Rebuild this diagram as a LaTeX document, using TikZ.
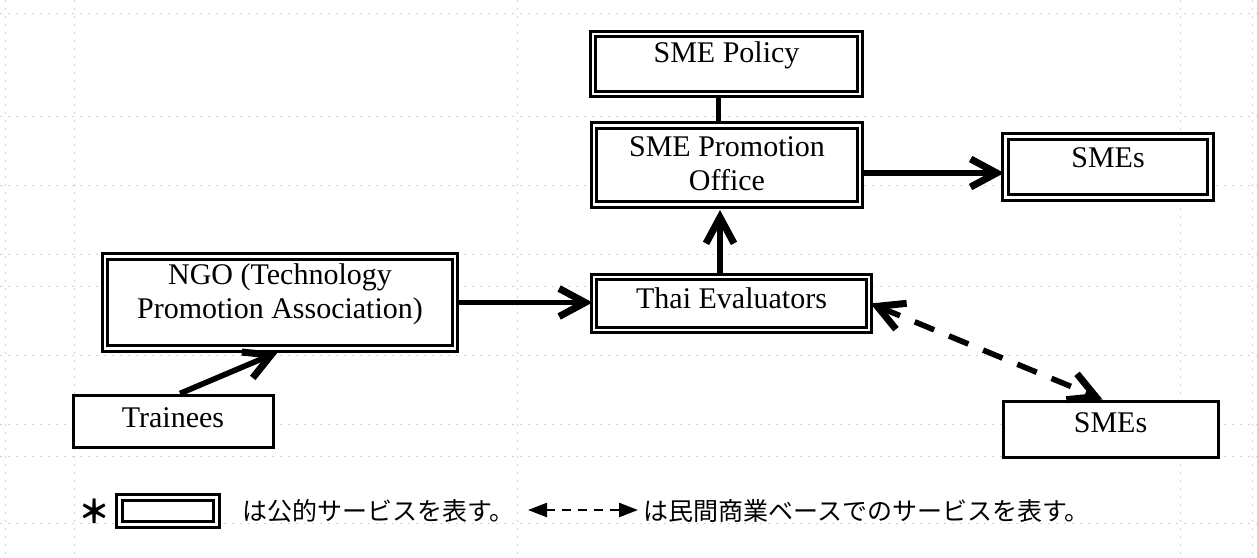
\documentclass[tikz,border=0pt]{standalone}
\usepackage{fontspec}
\setmainfont{Liberation Serif}
\newfontfamily\jpfont{Noto Sans CJK JP}
\usetikzlibrary{arrows.meta}
\begin{document}
\begin{tikzpicture}[x=0.5pt,y=-0.5pt,
  gridline/.style={draw=gray!35, line width=0.45pt, dash pattern=on 1pt off 3pt},
  pub/.style={draw=black, fill=white, double=white, line width=1.5pt, double distance=1.3pt, inner sep=0pt},
  priv/.style={draw=black, fill=white, line width=1.5pt, inner sep=0pt},
  lbl/.style={font=\fontsize{15}{17}\selectfont, inner sep=0pt, text height=10pt, text depth=3pt},
  lbltwo/.style={font=\fontsize{15}{17}\selectfont, inner sep=0pt, align=center},
  barb/.tip={Straight Barb[length=13pt,width=14pt,line width=3.5pt]},
  conn/.style={line width=2.8pt, -barb},
  plain/.style={line width=2.4pt},
  dashconn/.style={line width=2.8pt, dash pattern=on 10.5pt off 8pt, barb-barb},
  legarr/.style={line width=1.2pt, dash pattern=on 4.5pt off 3.5pt,
    {Triangle[length=9.5pt,width=7pt]}-{Triangle[length=9.5pt,width=7pt]}},
  jp/.style={font=\jpfont\fontsize{12.5}{14}\selectfont, inner sep=0pt}
]
\useasboundingbox (0,0) rectangle (1257,557);
% faint spreadsheet grid
\foreach \yy in {13,116,185,254,286,355,424,456,523}
  \draw[gridline] (0,\yy) -- (1257,\yy);
\foreach \xx in {5,74,517,1180,1252}
  \draw[gridline] (\xx,0) -- (\xx,557);

% boxes
\node[pub, minimum width=133.5pt, minimum height=30pt,
  label={[lbl,name=polT,yshift=4.5pt]center:SME Policy}] (pol) at (726.5,64) {};
\node[pub, minimum width=133pt, minimum height=39.5pt,
  label={[lbltwo,name=promT,yshift=0.5pt]center:SME Promotion\\Office}] (prom) at (727,165) {};
\node[pub, minimum width=102.5pt, minimum height=30.75pt,
  label={[lbl,name=smeTT,yshift=3.5pt]center:SMEs}] (smeT) at (1108,167) {};
\node[pub, minimum width=137.5pt, minimum height=26.5pt,
  label={[lbl,name=thaiT,yshift=1pt]center:Thai Evaluators}] (thai) at (731.5,303.5) {};
\node[pub, minimum width=175pt, minimum height=46pt,
  label={[lbltwo,name=ngoT,yshift=4.2pt]center:NGO (Technology\\Promotion Association)}] (ngo) at (280,302.5) {};
\node[priv, minimum width=100pt, minimum height=26pt,
  label={[lbl,name=trT,yshift=0.3pt]center:Trainees}] (tr) at (173,421) {};
\node[priv, minimum width=107.5pt, minimum height=28pt,
  label={[lbl,name=smeBT,yshift=2pt]center:SMEs}] (smeB) at (1110.5,429) {};

% connectors
\draw[plain] ([xshift=-4pt]pol.south) -- ([xshift=-4pt]pol.south |- prom.north);
\draw[conn] ([yshift=-4pt]prom.east) -- ([yshift=-4pt]prom.east -| smeT.west);
\draw[conn, shorten >=2pt] ([xshift=-5.75pt]thai.north) -- ([xshift=-5.75pt]thai.north |- prom.south);
\draw[conn] (ngo.east) -- (ngo.east -| thai.west);
\draw[conn] ([xshift=3.5pt]tr.north) -- ([xshift=-1pt,yshift=-1pt]ngo.south);
\draw[dashconn] (thai.east) -- ([xshift=-4pt]smeB.north);

% legend
\node[jp, font=\jpfont\bfseries\fontsize{16}{16}\selectfont] (ast) at (94,511) {＊};
\node[pub, minimum width=48.75pt, minimum height=13.75pt] (legbox) at (168,511) {};
\node[jp, anchor=west] (leg1) at (242,511) {は公的サービスを表す。};
\coordinate (la) at (528,510);
\coordinate (lb) at (638,510);
\draw[legarr] (la) -- (lb);
\node[jp, anchor=west] (leg2) at (643,511) {は民間商業ベースでのサービスを表す。};
\end{tikzpicture}
\end{document}
